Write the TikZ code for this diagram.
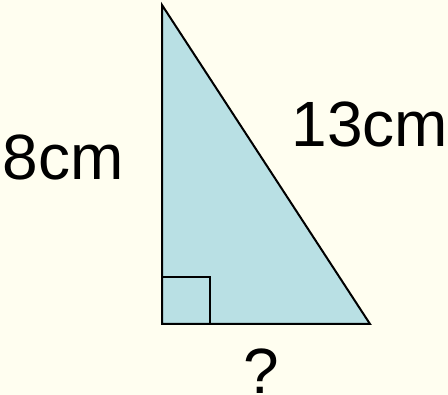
\documentclass[tikz,border=0pt]{standalone}
\usepackage{fontspec}
\setmainfont{Liberation Sans}
\definecolor{bgcream}{HTML}{FFFEF0}
\definecolor{trifill}{HTML}{B9E0E4}
\begin{document}
\begin{tikzpicture}[x=1pt,y=-1pt,
  lab/.style={font=\fontsize{64}{64}\selectfont, anchor=base, inner sep=0pt},
  edge/.style={line width=2pt, black}]
\fill[bgcream] (0,0) rectangle (448,395);
\useasboundingbox (0,0) rectangle (448,395);
\coordinate (A) at (162,5);
\coordinate (B) at (162,324);
\coordinate (C) at (370,324);
\fill[trifill] (A) -- (B) -- (C) -- cycle;
\coordinate (S1) at (162,277);
\coordinate (S2) at (210,277);
\coordinate (S3) at (210,324);
\draw[edge] (S1) -- (S2) -- (S3);
\draw[edge, line join=miter] (A) -- (B) -- (C) -- cycle;
\node[lab] (l8) at (63,180) {8cm};
\node[lab] (l13) at (370,147) {13cm};
\node[lab] (lq) at (261,394) {?};
\end{tikzpicture}
\end{document}
